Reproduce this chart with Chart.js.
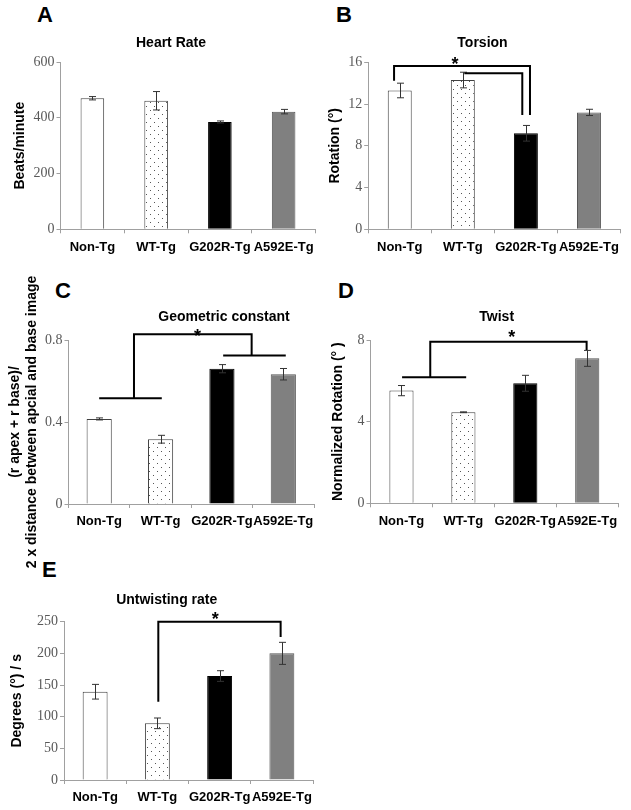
<!DOCTYPE html>
<html><head><meta charset="utf-8">
<script src="https://cdn.jsdelivr.net/npm/chart.js@4.4.0/dist/chart.umd.min.js"></script>
<style>
html,body{margin:0;padding:0;background:#fff;}
body{width:631px;height:810px;position:relative;overflow:hidden;font-family:'Liberation Sans',Arial,sans-serif;}
.lbl{position:absolute;font-weight:bold;font-size:22px;line-height:22px;color:#000;font-family:'Liberation Sans',Arial,sans-serif;}
canvas{position:absolute;}
</style></head><body>
<div class="lbl" style="left:37px;top:4px">A</div>
<div class="lbl" style="left:336px;top:4px">B</div>
<div class="lbl" style="left:55px;top:280px">C</div>
<div class="lbl" style="left:338px;top:280px">D</div>
<div class="lbl" style="left:42px;top:559px">E</div>
<script>
// ---------- data ----------
const categories = ['Non-Tg', 'WT-Tg', 'G202R-Tg', 'A592E-Tg'];

const heartRate    = [470, 461, 385, 422];
const heartRateErr = [6, 33, 3.6, 8];
const heartRateTicks = [0, 200, 400, 600];

const torsion    = [13.3, 14.3, 9.2, 11.2];
const torsionErr = [0.7, 0.75, 0.75, 0.3];
const torsionTicks = [0, 4, 8, 12, 16];
const torsionBrackets = [
  [[-0.09, 14.24], [-0.09, 15.65], [2.065, 15.65], [2.065, 10.95]],
  [[1.024, 14.95], [1.943, 14.95], [1.943, 10.95]]
];
const torsionStars = [[0.876, 16.22]];

const geometric    = [0.415, 0.316, 0.66, 0.633];
const geometricErr = [0.005, 0.019, 0.02, 0.028];
const geometricTicks = [0, 0.4, 0.8];
const geometricBrackets = [
  [[0.0, 0.516], [1.02, 0.516]],
  [[0.567, 0.516], [0.567, 0.828], [2.484, 0.828], [2.484, 0.725]],
  [[2.02, 0.725], [3.04, 0.725]]
];
const geometricStars = [[1.6, 0.8405]];

const twist    = [5.52, 4.46, 5.88, 7.1];
const twistErr = [0.25, 0.02, 0.39, 0.39];
const twistTicks = [0, 4, 8];
const twistBrackets = [
  [[0.01, 6.17], [1.045, 6.17]],
  [[0.465, 6.17], [0.465, 7.92], [2.99, 7.92], [2.99, 7.51]]
];
const twistStars = [[1.78, 8.36]];

const untwist    = [139.4, 89.5, 164.2, 200];
const untwistErr = [11.6, 8.4, 8.4, 17.4];
const untwistTicks = [0, 50, 100, 150, 200, 250];
const untwistBrackets = [
  [[1.015, 123.7], [1.015, 250], [2.98, 250], [2.98, 226]]
];
const untwistStars = [[1.93, 261]];

// ---------- styling helpers ----------
const SANS = "'Liberation Sans', Arial, sans-serif";
const SERIF = "'Liberation Serif', 'Times New Roman', serif";
const AXIS_GRAY = '#a0a0a0';

function dotPattern() {
  const c = document.createElement('canvas');
  c.width = 8; c.height = 8;
  const g = c.getContext('2d');
  g.fillStyle = '#ffffff'; g.fillRect(0, 0, 8, 8);
  g.fillStyle = '#555555';
  g.fillRect(1, 1, 1, 1);
  g.fillRect(5, 5, 1, 1);
  return g.createPattern(c, 'repeat');
}
const pattern = dotPattern();

const errorBarPlugin = {
  id: 'errorBars',
  afterDatasetsDraw(chart) {
    const ctx = chart.ctx, ys = chart.scales.y;
    chart.data.datasets.forEach((ds, di) => {
      if (!ds.errors) return;
      const meta = chart.getDatasetMeta(di);
      meta.data.forEach((bar, i) => {
        const v = ds.data[i], e = ds.errors[i];
        const x = Math.round(bar.x) + 0.5;
        const yt = ys.getPixelForValue(v + e), yb = ys.getPixelForValue(v - e);
        ctx.save();
        ctx.strokeStyle = '#333'; ctx.lineWidth = 1;
        ctx.beginPath();
        ctx.moveTo(x, yt); ctx.lineTo(x, yb);
        ctx.moveTo(x - 3.5, yt); ctx.lineTo(x + 3.5, yt);
        ctx.moveTo(x - 3.5, yb); ctx.lineTo(x + 3.5, yb);
        ctx.stroke();
        ctx.restore();
      });
    });
  }
};

const bracketPlugin = {
  id: 'brackets',
  afterDraw(chart, args, opts) {
    const ctx = chart.ctx, xs = chart.scales.x, ys = chart.scales.y;
    ctx.save();
    ctx.strokeStyle = '#000'; ctx.lineWidth = 2; ctx.lineJoin = 'miter';
    (opts.lines || []).forEach(pts => {
      ctx.beginPath();
      pts.forEach((p, k) => {
        const px = xs.getPixelForValue(p[0]), py = ys.getPixelForValue(p[1]);
        if (k === 0) ctx.moveTo(px, py); else ctx.lineTo(px, py);
      });
      ctx.stroke();
    });
    ctx.fillStyle = '#000';
    ctx.font = 'bold 18px ' + SANS;
    ctx.textAlign = 'center';
    ctx.textBaseline = 'alphabetic';
    (opts.stars || []).forEach(p => {
      const px = xs.getPixelForValue(p[0]), py = ys.getPixelForValue(p[1]);
      ctx.fillText('*', px, py + 0.57 * 18);
    });
    ctx.restore();
  }
};

function makePanel(o) {
  const L = o.yTitleX - 8.4;             // left edge of y-axis box
  const R = 2 * o.titleX - L;             // right edge of title box
  const extraTop = o.extraTop || 0, extraBottom = o.extraBottom || 0;
  const cx = Math.floor(L) - 2;
  const cy = Math.round(o.titleY - 8.4) - 2 - extraTop;
  const W = Math.ceil(R - cx) + 2;
  const xh = 33;
  const H = Math.ceil(o.plotB + xh - cy) + 1 + extraBottom;
  const yw = o.plotL - L;
  const rw = R - o.plotR;
  const pb = o.plotT - o.titleY - 8.4;

  const cv = document.createElement('canvas');
  cv.width = W; cv.height = H;
  cv.style.left = cx + 'px'; cv.style.top = cy + 'px';
  cv.style.width = W + 'px'; cv.style.height = H + 'px';
  document.body.appendChild(cv);

  const ticks = o.ticks;
  new Chart(cv.getContext('2d'), {
    type: 'bar',
    data: {
      labels: categories,
      datasets: [{
        data: o.values,
        errors: o.errors,
        backgroundColor: ['#ffffff', pattern, '#000000', '#808080'],
        borderColor: ['#404040', '#404040', '#000000', '#555555'],
        borderWidth: 1,
        categoryPercentage: 1,
        barPercentage: o.barPct
      }]
    },
    options: {
      responsive: false,
      animation: false,
      devicePixelRatio: 1,
      layout: { padding: { left: L - cx, right: cx + W - R, top: o.titleY - 8.4 - cy, bottom: cy + H - o.plotB - xh } },
      plugins: {
        legend: { display: false },
        tooltip: { enabled: false },
        title: {
          display: true, text: o.title, color: '#000',
          font: { family: SANS, size: 14, weight: 'bold', lineHeight: 1.2 },
          padding: { top: 0, bottom: pb }
        },
        brackets: { lines: o.brackets || [], stars: o.stars || [] }
      },
      scales: {
        x: {
          offset: true,
          grid: { display: true, drawOnChartArea: false, drawTicks: true, tickLength: 4, color: AXIS_GRAY, offset: true },
          border: { display: true, color: AXIS_GRAY, width: 1 },
          ticks: { color: '#000', font: { family: SANS, size: 13, weight: 'bold' }, autoSkip: false, maxRotation: 0, minRotation: 0, padding: 6 },
          afterFit: s => { s.height = xh; }
        },
        y: {
          min: 0, max: ticks[ticks.length - 1],
          afterBuildTicks: s => { s.ticks = ticks.map(v => ({ value: v })); },
          grid: { display: true, drawOnChartArea: false, drawTicks: true, tickLength: 4, color: AXIS_GRAY },
          border: { display: true, color: AXIS_GRAY, width: 1 },
          ticks: { color: '#595959', font: { family: SERIF, size: 14 }, padding: 2 },
          title: { display: true, text: o.yTitle, color: '#000', font: { family: SANS, size: 14, weight: 'bold', lineHeight: 1.2 }, padding: 0 },
          afterFit: s => { s.width = yw; }
        },
        yR: {
          position: 'right', display: true,
          grid: { display: false }, ticks: { display: false }, border: { display: false },
          afterFit: s => { s.width = rw; }
        }
      }
    },
    plugins: [errorBarPlugin, bracketPlugin]
  });
}

makePanel({ title: 'Heart Rate', yTitle: 'Beats/minute', values: heartRate, errors: heartRateErr, ticks: heartRateTicks,
  plotL: 60.5, plotR: 315.5, plotT: 62, plotB: 229.3, titleX: 171, titleY: 43, yTitleX: 20, barPct: 0.37 });
makePanel({ title: 'Torsion', yTitle: 'Rotation (°)', values: torsion, errors: torsionErr, ticks: torsionTicks,
  brackets: torsionBrackets, stars: torsionStars,
  plotL: 368.2, plotR: 620.5, plotT: 62.3, plotB: 229.3, titleX: 482.5, titleY: 42.7, yTitleX: 335, barPct: 0.38 });
makePanel({ title: 'Geometric constant', yTitle: ['(r apex + r base)/', '2 x distance between apcial and base image'],
  values: geometric, errors: geometricErr, ticks: geometricTicks,
  brackets: geometricBrackets, stars: geometricStars, extraTop: 45, extraBottom: 50,
  plotL: 68.5, plotR: 314, plotT: 340, plotB: 504, titleX: 224, titleY: 317, yTitleX: 15, barPct: 0.41 });
makePanel({ title: 'Twist', yTitle: 'Normalized Rotation (° )', values: twist, errors: twistErr, ticks: twistTicks,
  brackets: twistBrackets, stars: twistStars,
  plotL: 370.5, plotR: 618.2, plotT: 340, plotB: 503.3, titleX: 496.7, titleY: 316.7, yTitleX: 338.3, barPct: 0.39 });
makePanel({ title: 'Untwisting rate', yTitle: 'Degrees (°) / s', values: untwist, errors: untwistErr, ticks: untwistTicks,
  brackets: untwistBrackets, stars: untwistStars,
  plotL: 64, plotR: 313, plotT: 621.7, plotB: 780, titleX: 166.7, titleY: 600, yTitleX: 16.7, barPct: 0.4 });
</script>
</body></html>
